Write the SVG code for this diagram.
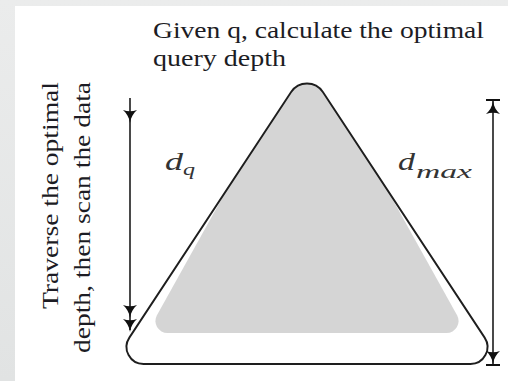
<svg xmlns="http://www.w3.org/2000/svg" xmlns:xlink="http://www.w3.org/1999/xlink" width="508" height="381" viewBox="0 0 508 381">
  <style>
    .txt { fill: #1c1c24; }
    .math { font-style: italic; fill: #333; }
    .line { stroke: #2a2a2a; stroke-width: 1.7; fill: none; }
    .head { fill: #111; }
  </style>
  <defs>
    <linearGradient id="bg" x1="0" y1="0" x2="0" y2="1">
      <stop offset="0" stop-color="#ebecec"/>
      <stop offset="1" stop-color="#e1e3e3"/>
    </linearGradient>
    <path id="hd" d="M0,0 C-1,-6 -3.5,-10 -7,-13 Q0,-10.5 7,-13 C3.5,-10 1,-6 0,0 Z"/>
    <clipPath id="triClip">
      <path d="M291.13,92.08 A19,19 0 0 1 322.87,92.08 L484.64,337.64 A17,17 0 0 1 470.44,364 L143.56,364 A17,17 0 0 1 129.36,337.64 Z"/>
    </clipPath>
  </defs>

  <rect x="0" y="0" width="508" height="381" fill="url(#bg)"/>
  <rect x="15" y="6" width="493" height="375" fill="#ffffff"/>

  <g id="triangle">
    <path clip-path="url(#triClip)" fill="#d5d5d5" d="M307,45.6 L457.07,315.17 A12,12 0 0 1 446.59,333 L167.41,333 A12,12 0 0 1 156.93,315.17 Z"/>
    <path fill="none" stroke="#1e1e1e" stroke-width="1.9" d="M291.13,92.08 A19,19 0 0 1 322.87,92.08 L484.64,337.64 A17,17 0 0 1 470.44,364 L143.56,364 A17,17 0 0 1 129.36,337.64 Z"/>
  </g>

  <g id="title" font-family="Liberation Serif, serif">
    <text class="txt" x="153" y="38" font-size="23" textLength="331" lengthAdjust="spacingAndGlyphs">Given q, calculate the optimal</text>
    <text class="txt" x="153" y="66" font-size="23" textLength="133" lengthAdjust="spacingAndGlyphs">query depth</text>
  </g>

  <g id="side-label" font-family="Liberation Serif, serif">
    <text class="txt" transform="translate(58,309) rotate(-90)" font-size="23" textLength="227" lengthAdjust="spacingAndGlyphs">Traverse the optimal</text>
    <text class="txt" transform="translate(90,353) rotate(-90)" font-size="23" textLength="271" lengthAdjust="spacingAndGlyphs">depth, then scan the data</text>
  </g>

  <g id="label-dq" font-family="Liberation Serif, serif">
    <text class="math" x="165" y="170" font-size="26" textLength="18" lengthAdjust="spacingAndGlyphs">d</text>
    <text class="math" x="183" y="175" font-size="17" textLength="12" lengthAdjust="spacingAndGlyphs">q</text>
  </g>

  <g id="label-dmax" font-family="Liberation Serif, serif">
    <text class="math" x="398" y="170" font-size="26" textLength="17" lengthAdjust="spacingAndGlyphs">d</text>
    <text class="math" x="416" y="178" font-size="18" textLength="56" lengthAdjust="spacingAndGlyphs">max</text>
  </g>

  <g id="connectors">
    <g id="arrow-dq">
      <line class="line" x1="130" y1="98" x2="130" y2="330"/>
      <use href="#hd" xlink:href="#hd" class="head" x="130" y="123"/>
      <use href="#hd" xlink:href="#hd" class="head" x="130" y="318"/>
      <use href="#hd" xlink:href="#hd" class="head" x="130" y="332"/>
    </g>
    <g id="arrow-dmax">
      <line class="line" x1="493" y1="100" x2="493" y2="365"/>
      <line x1="486" y1="100" x2="500" y2="100" stroke="#111" stroke-width="2"/>
      <line x1="486" y1="365" x2="500" y2="365" stroke="#111" stroke-width="2"/>
      <use href="#hd" xlink:href="#hd" class="head" transform="translate(493,101) rotate(180)"/>
      <use href="#hd" xlink:href="#hd" class="head" x="493" y="364"/>
    </g>
  </g>
</svg>
